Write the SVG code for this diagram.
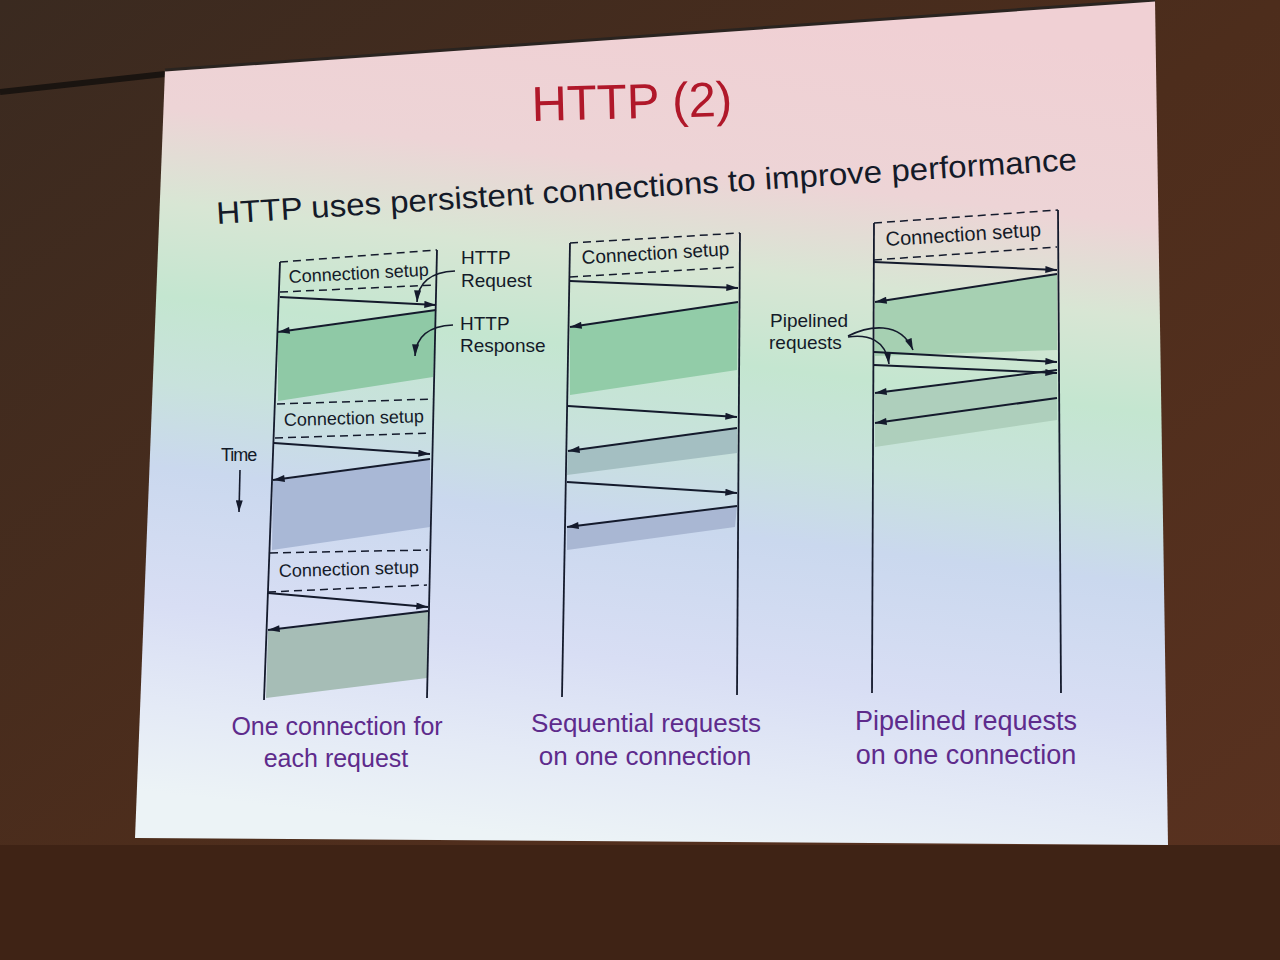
<svg xmlns="http://www.w3.org/2000/svg" width="1280" height="960" viewBox="0 0 1280 960">
<defs>
<linearGradient id="wall" x1="0" y1="0" x2="1" y2="1">
<stop offset="0" stop-color="#3a2a20"/>
<stop offset="0.5" stop-color="#4d2d1c"/>
<stop offset="1" stop-color="#5a3220"/>
</linearGradient>
<linearGradient id="slide" gradientUnits="userSpaceOnUse" x1="700" y1="0" x2="600" y2="845">
<stop offset="0" stop-color="#f0d0d4"/>
<stop offset="0.2" stop-color="#edd4d6"/>
<stop offset="0.31" stop-color="#d8e6d4"/>
<stop offset="0.42" stop-color="#c4e6d0"/>
<stop offset="0.52" stop-color="#c8e2dc"/>
<stop offset="0.62" stop-color="#cad8ee"/>
<stop offset="0.78" stop-color="#d8def4"/>
<stop offset="0.9" stop-color="#e4eaf6"/>
<stop offset="1" stop-color="#ecf3f6"/>
</linearGradient>
<marker id="ah" viewBox="0 0 10 6" refX="10" refY="3" markerWidth="13" markerHeight="7" markerUnits="userSpaceOnUse" orient="auto">
<path d="M0,0 L10,3 L0,6 Z" fill="#141a2c"/>
</marker>
<style>
.ln{stroke:#141a2c;stroke-width:1.8;fill:none}
.ds{stroke:#141a2c;stroke-width:1.5;stroke-dasharray:8,5;fill:none}
.ar{stroke:#141a2c;stroke-width:2;fill:none;marker-end:url(#ah)}
.cv{stroke:#141a2c;stroke-width:1.6;fill:none;marker-end:url(#ah)}
.t{font-family:"Liberation Sans",Arial,sans-serif;fill:#141a28}
.p{font-family:"Liberation Sans",Arial,sans-serif;fill:#5e2b8c;text-anchor:middle}
</style>
</defs>
<rect x="0" y="0" width="1280" height="960" fill="url(#wall)"/>
<rect x="0" y="845" width="1280" height="115" fill="#3f2315"/>
<path d="M0,92 L165,74" stroke="#1a1410" stroke-width="6"/>
<polygon points="165,70 1155,0 1168,845 135,838" fill="url(#slide)"/>
<path d="M165,70 L1155,0" stroke="#2a2420" stroke-width="3"/>

<g id="title">
<text class="t" x="532" y="121" font-size="49" style="fill:#b0182a" transform="rotate(-1.5 532 121)">HTTP (2)</text>
</g>
<g id="subtitle">
<text class="t" x="217" y="224" font-size="31" textLength="862" lengthAdjust="spacingAndGlyphs" transform="rotate(-3.6 217 224)">HTTP uses persistent connections to improve performance</text>
</g>

<g id="col1">
<polygon points="278,333 436,310 433,377 278,401" fill="#8fc9a6"/>
<polygon points="273,481 430,459 430,527 272,550" fill="#a9b8d6"/>
<polygon points="268,631 428,611 427,678 266,698" fill="#a6bdb6"/>
<path class="ln" d="M280,262 L264,700"/>
<path class="ln" d="M437,250 L427,698"/>
<path class="ds" d="M280,262 L437,250"/>
<path class="ds" d="M280,292 L435,285"/>
<path class="ds" d="M277,404 L433,399"/>
<path class="ds" d="M275,438 L430,433"/>
<path class="ds" d="M270,553 L428,550"/>
<path class="ds" d="M268,592 L427,585"/>
<text class="t" x="289" y="283" font-size="18" transform="rotate(-3 289 283)">Connection setup</text>
<text class="t" x="284" y="426" font-size="18" transform="rotate(-1.5 284 426)">Connection setup</text>
<text class="t" x="279" y="577" font-size="18" transform="rotate(-1.5 279 577)">Connection setup</text>
</g>

<g id="col2">
<polygon points="570,327 738,302 737,370 570,395" fill="#92cca8"/>
<polygon points="568,451 737,428 737,453 567,475" fill="#a4bfc2"/>
<polygon points="567,527 737,506 735,527 567,550" fill="#a9b7d3"/>
<path class="ln" d="M570,243 L562,697"/>
<path class="ln" d="M740,233 L737,695"/>
<path class="ds" d="M570,243 L740,233"/>
<path class="ds" d="M570,277 L738,267"/>
<text class="t" x="582" y="264" font-size="19" transform="rotate(-3.4 582 264)">Connection setup</text>
</g>

<g id="col3">
<polygon points="875,302 1057,274 1057,350 875,356" fill="#a6d0b2"/>
<polygon points="875,393 1057,372 1057,420 875,447" fill="#aecfbc"/>
<path class="ln" d="M874,223 L872,693"/>
<path class="ln" d="M1058,210 L1061,693"/>
<path class="ds" d="M874,223 L1058,210"/>
<path class="ds" d="M874,260 L1057,247"/>
<text class="t" x="886" y="246" font-size="20" transform="rotate(-3.6 886 246)">Connection setup</text>
</g>

<g id="labels">
<text class="t" x="461" y="264" font-size="19">HTTP</text>
<text class="t" x="461" y="287" font-size="19">Request</text>
<text class="t" x="460" y="330" font-size="19">HTTP</text>
<text class="t" x="460" y="352" font-size="19">Response</text>
<text class="t" x="221" y="461" font-size="18" letter-spacing="-1">Time</text>
<text class="t" x="770" y="327" font-size="19">Pipelined</text>
<text class="t" x="769" y="349" font-size="19">requests</text>
</g>

<g id="captions">
<text class="p" x="337" y="735" font-size="25">One connection for</text>
<text class="p" x="336" y="767" font-size="25">each request</text>
<text class="p" x="646" y="732" font-size="26">Sequential requests</text>
<text class="p" x="645" y="765" font-size="26">on one connection</text>
<text class="p" x="966" y="730" font-size="27">Pipelined requests</text>
<text class="p" x="966" y="764" font-size="27">on one connection</text>
</g>

<g id="connectors">
<path class="ar" d="M280,297 L436,305"/>
<path class="ar" d="M436,310 L278,332"/>
<path class="ar" d="M274,443 L430,454"/>
<path class="ar" d="M430,459 L273,480"/>
<path class="ar" d="M268,593 L428,607"/>
<path class="ar" d="M428,611 L268,630"/>
<path class="ar" d="M570,281 L738,288"/>
<path class="ar" d="M738,302 L570,327"/>
<path class="ar" d="M568,406 L737,417"/>
<path class="ar" d="M737,428 L568,451"/>
<path class="ar" d="M567,482 L737,493"/>
<path class="ar" d="M737,506 L567,527"/>
<path class="ar" d="M874,262 L1057,270"/>
<path class="ar" d="M1057,274 L875,302"/>
<path class="ar" d="M874,352 L1057,362"/>
<path class="ar" d="M874,365 L1057,373"/>
<path class="ar" d="M1057,370 L875,393"/>
<path class="ar" d="M1057,398 L875,423"/>
<path class="cv" d="M455,271 C432,272 418,282 417,302"/>
<path class="cv" d="M453,325 C430,326 416,336 415,356"/>
<path class="cv" d="M240,470 L239,512"/>
<path class="cv" d="M848,336 C868,326 900,320 913,350"/>
<path class="cv" d="M848,337 C868,334 886,340 889,364"/>
</g>
</svg>
